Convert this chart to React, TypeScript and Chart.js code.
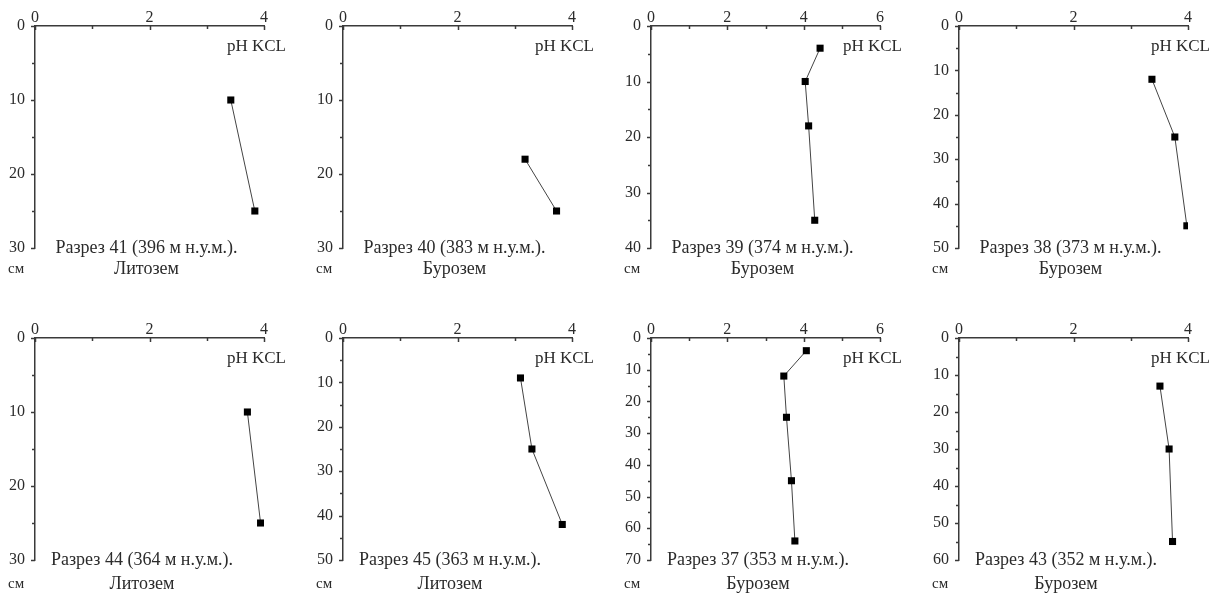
import React, { useEffect, useRef } from "react";
import { Chart, registerables } from "chart.js";

Chart.register(...registerables);

// pH KCL profiles by depth for each soil pit
const ph41 = [3.42, 3.84];
const depth41 = [10, 25];
const ph40 = [3.18, 3.73];
const depth40 = [18, 25];
const ph39 = [4.43, 4.04, 4.13, 4.29];
const depth39 = [4, 10, 18, 35];
const ph38 = [3.37, 3.77, 3.98];
const depth38 = [12, 25, 45];
const ph44 = [3.71, 3.94];
const depth44 = [10, 25];
const ph45 = [3.1, 3.3, 3.83];
const depth45 = [9, 25, 42];
const ph37 = [4.07, 3.48, 3.55, 3.68, 3.77];
const depth37 = [4, 12, 25, 45, 64];
const ph43 = [3.51, 3.67, 3.73];
const depth43 = [13, 30, 55];

const phMax = [4, 4, 6, 4, 4, 4, 6, 4];
const depthMax = [30, 30, 40, 50, 30, 50, 70, 60];

const captions = [
  "Разрез 41 (396 м н.у.м.).",
  "Разрез 40 (383 м н.у.м.).",
  "Разрез 39 (374 м н.у.м.).",
  "Разрез 38 (373 м н.у.м.).",
  "Разрез 44 (364 м н.у.м.).",
  "Разрез 45 (363 м н.у.м.).",
  "Разрез 37 (353 м н.у.м.).",
  "Разрез 43 (352 м н.у.м.).",
];
const soilTypes = [
  "Литозем",
  "Бурозем",
  "Бурозем",
  "Бурозем",
  "Литозем",
  "Литозем",
  "Бурозем",
  "Бурозем",
];

const phSeries = [ph41, ph40, ph39, ph38, ph44, ph45, ph37, ph43];
const depthSeries = [depth41, depth40, depth39, depth38, depth44, depth45, depth37, depth43];

const axisLabel = "pH KCL";
const depthUnit = "см";

const FONT = "'Liberation Serif', 'Times New Roman', serif";
const TEXT = "#2b2b2b";
const LINE = "#3a3a3a";

const COL_W = [308, 308, 308, 302];
const ROW_H = [312, 285];
const AXIS_W = 35;
const AXIS_H = 26;
const PLOT_W = 229;
const PLOT_H = 222;

type PanelProps = { index: number };

function Panel({ index }: PanelProps) {
  const ref = useRef<HTMLCanvasElement | null>(null);
  const col = index % 4;
  const row = Math.floor(index / 4);
  const width = COL_W[col];
  const height = ROW_H[row];

  useEffect(() => {
    const canvas = ref.current;
    if (!canvas) return;
    const xs = phSeries[index];
    const ys = depthSeries[index];
    const points = xs.map((x, i) => ({ x, y: ys[i] }));
    const captionDx = row === 0 ? 111.5 : 107;
    const line2Dy = row === 0 ? 21 : 24;

    const annotate = {
      id: "profileAnnotations",
      afterDraw(chart: any) {
        const { ctx, chartArea } = chart;
        const sx = chart.scales.x;
        const sy = chart.scales.y;
        ctx.save();
        ctx.strokeStyle = LINE;
        ctx.lineWidth = 1.5;
        // x ticks on the top axis, pointing into the plot
        for (let v = 0; v <= phMax[index] + 1e-9; v += 1) {
          const px = Math.round(sx.getPixelForValue(v)) + 0.5;
          const len = v % 2 === 0 ? 4 : 3;
          ctx.beginPath();
          ctx.moveTo(px, chartArea.top);
          ctx.lineTo(px, chartArea.top + len);
          ctx.stroke();
        }
        // depth ticks on the left axis, pointing outward
        for (let v = 0; v <= depthMax[index] + 1e-9; v += 5) {
          const py = Math.round(sy.getPixelForValue(v)) + 0.5;
          const len = v % 10 === 0 ? 4 : 3;
          ctx.beginPath();
          ctx.moveTo(chartArea.left, py);
          ctx.lineTo(chartArea.left - len, py);
          ctx.stroke();
        }
        ctx.fillStyle = TEXT;
        ctx.font = `17px ${FONT}`;
        ctx.textBaseline = "middle";
        ctx.textAlign = "right";
        ctx.fillText(axisLabel, chartArea.right + 22, chartArea.top + 21);
        ctx.font = `18px ${FONT}`;
        ctx.textAlign = "center";
        const cx = chartArea.left + captionDx;
        ctx.fillText(captions[index], cx, chartArea.bottom);
        ctx.fillText(soilTypes[index], cx, chartArea.bottom + line2Dy);
        ctx.font = `15px ${FONT}`;
        ctx.textAlign = "left";
        ctx.fillText(depthUnit, chartArea.left - 27, chartArea.bottom + line2Dy);
        ctx.restore();
      },
    };

    const chart = new Chart(canvas, {
      type: "scatter",
      data: {
        datasets: [
          {
            data: points,
            showLine: true,
            borderColor: "#444",
            borderWidth: 1,
            pointStyle: "rect",
            pointRadius: 5,
            pointHoverRadius: 5,
            pointBackgroundColor: "#000",
            pointBorderColor: "#000",
            pointBorderWidth: 0,
          },
        ],
      },
      options: {
        responsive: false,
        animation: false,
        devicePixelRatio: 1,
        layout: {
          padding: {
            left: 0,
            top: 0,
            right: width - AXIS_W - PLOT_W,
            bottom: height - AXIS_H - PLOT_H,
          },
        },
        plugins: {
          legend: { display: false },
          tooltip: { enabled: false },
        },
        scales: {
          x: {
            type: "linear",
            position: "top",
            min: 0,
            max: phMax[index],
            grid: { display: false, drawTicks: false },
            border: { display: true, color: LINE, width: 1.5 },
            ticks: {
              stepSize: 2,
              padding: -1,
              color: TEXT,
              font: { family: FONT, size: 16 },
            },
            afterFit(scale: any) {
              scale.height = AXIS_H;
            },
          },
          y: {
            type: "linear",
            position: "left",
            reverse: true,
            min: 0,
            max: depthMax[index],
            grid: { display: false, drawTicks: false },
            border: { display: true, color: LINE, width: 1.5 },
            ticks: {
              stepSize: 10,
              padding: 10,
              color: TEXT,
              font: { family: FONT, size: 16 },
            },
            afterFit(scale: any) {
              scale.width = AXIS_W;
            },
          },
        },
      },
      plugins: [annotate],
    });
    return () => chart.destroy();
  }, [index, row, width, height]);

  const left = COL_W.slice(0, col).reduce((a, b) => a + b, 0);
  const top = ROW_H.slice(0, row).reduce((a, b) => a + b, 0);
  return (
    <canvas
      ref={ref}
      width={width}
      height={height}
      style={{ position: "absolute", left, top, width, height }}
    />
  );
}

export default function App() {
  return (
    <div
      style={{
        position: "fixed",
        left: 0,
        top: 0,
        width: 1226,
        height: 597,
        background: "#fff",
        overflow: "hidden",
      }}
    >
      {phSeries.map((_, i) => (
        <Panel key={i} index={i} />
      ))}
    </div>
  );
}
